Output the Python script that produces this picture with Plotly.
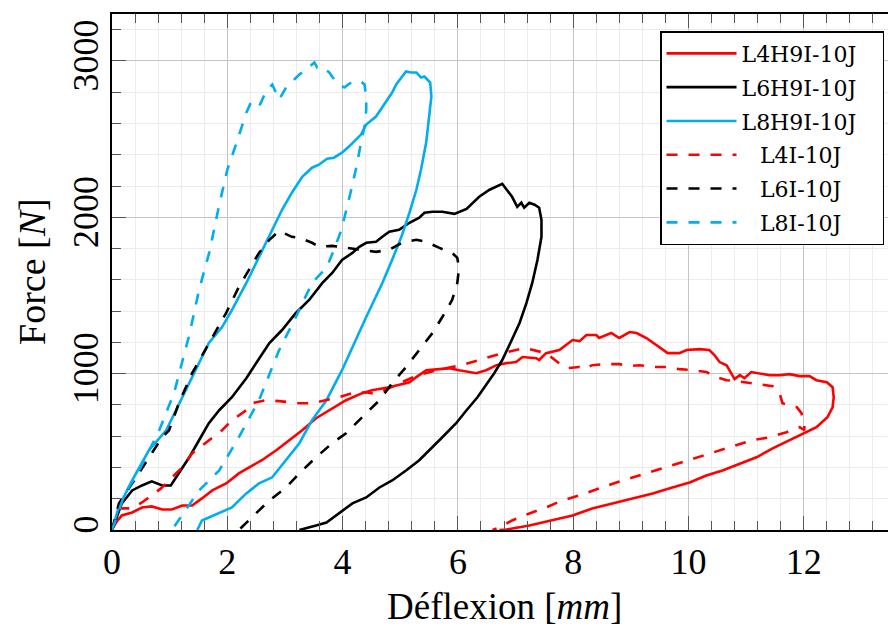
import plotly.graph_objects as go

# ---------------- data ----------------
L4H9I_x = [0, 0.07, 0.17, 0.35, 0.52, 0.69, 0.87, 1.04, 1.22, 1.39, 1.56, 1.74, 1.98, 2.20, 2.38, 2.60,
           2.85, 3.07, 3.30, 3.54, 3.77, 4.06, 4.34, 4.51, 4.81, 5.16, 5.28, 5.45, 5.68, 5.85, 6.02,
           6.32, 6.49, 6.67, 6.84, 7.01, 7.12, 7.36, 7.41, 7.53, 7.76, 7.99, 8.11, 8.23, 8.40, 8.45,
           8.66, 8.80, 8.98, 9.10, 9.27, 9.50, 9.64, 9.84, 9.97, 10.19, 10.36, 10.45, 10.54, 10.66,
           10.71, 10.80, 10.89, 10.97, 11.09, 11.23, 11.41, 11.58, 11.75, 11.93, 12.10, 12.22, 12.40,
           12.50, 12.52, 12.50, 12.41, 12.22, 12.01, 11.75, 11.46, 11.18, 10.89, 10.59, 10.31, 10.02,
           9.72, 9.38, 9.03, 8.68, 8.33, 7.99, 7.64, 7.24, 6.84, 6.72]
L4H9I_y = [0, 48, 93, 112, 144, 151, 131, 131, 157, 157, 202, 253, 298, 362, 401, 446,
           510, 574, 638, 715, 766, 830, 875, 894, 913, 945, 978, 1022, 1029, 1035, 1022,
           1003, 1022, 1054, 1067, 1074, 1106, 1099, 1087, 1131, 1151, 1215, 1208, 1247, 1247, 1228,
           1260, 1228, 1266, 1260, 1228, 1170, 1131, 1131, 1151, 1157, 1151, 1119, 1074, 1054,
           1022, 965, 990, 971, 1010, 1003, 990, 990, 997, 984, 984, 958, 945,
           913, 849, 785, 721, 657, 619, 574, 522, 465, 426, 381, 349, 304,
           272, 234, 202, 170, 138, 93, 61, 29, 3, 0]

L6H9I_x = [0, 0.17, 0.35, 0.52, 0.69, 0.87, 1.02, 1.16, 1.34, 1.51, 1.68, 1.86, 2.08, 2.33, 2.50,
           2.73, 2.95, 3.19, 3.42, 3.65, 3.82, 3.99, 4.17, 4.29, 4.41, 4.58, 4.69, 4.81, 4.98, 5.16,
           5.33, 5.42, 5.56, 5.73, 5.94, 6.15, 6.37, 6.55, 6.77, 6.89, 6.94, 7.03, 7.10, 7.15, 7.24,
           7.33, 7.41, 7.45, 7.45, 7.38, 7.29, 7.19, 7.07, 6.91, 6.77, 6.63, 6.49, 6.34, 6.15, 5.97,
           5.73, 5.56, 5.33, 5.10, 4.86, 4.64, 4.41, 4.17, 3.94, 3.72, 3.54, 3.37, 3.25]
L6H9I_y = [0, 170, 253, 285, 311, 285, 285, 362, 465, 574, 683, 766, 849, 971, 1067,
           1196, 1279, 1388, 1471, 1580, 1644, 1727, 1772, 1811, 1837, 1843, 1875, 1907, 1920, 1965,
           1997, 2029, 2035, 2035, 2022, 2054, 2131, 2176, 2214, 2157, 2131, 2067, 2093, 2061, 2093,
           2080, 2061, 1984, 1875, 1727, 1580, 1452, 1324, 1196, 1087, 1003, 926, 849, 766, 683,
           593, 529, 446, 381, 317, 272, 208, 170, 106, 48, 29, 10, 0]

L8H9I_x = [0, 0.12, 0.35, 0.64, 0.94, 1.11, 1.39, 1.68, 1.91, 2.08, 2.33, 2.50, 2.60, 2.78, 2.95,
           3.12, 3.30, 3.47, 3.59, 3.73, 3.85, 3.99, 4.11, 4.32, 4.41, 4.58, 4.69, 4.86, 4.93, 5.10,
           5.19, 5.28, 5.36, 5.42, 5.47, 5.52, 5.54, 5.50, 5.45, 5.36, 5.28, 5.16, 5.02, 4.86, 4.69,
           4.41, 3.99, 3.72, 3.47, 3.25, 3.02, 2.78, 2.55, 2.33, 2.08, 1.86, 1.68, 1.56, 1.48]
L8H9I_y = [0, 150, 317, 510, 638, 766, 978, 1196, 1298, 1407, 1580, 1708, 1792, 1920, 2048,
           2157, 2259, 2317, 2336, 2375, 2381, 2413, 2452, 2529, 2593, 2644, 2708, 2798, 2849, 2932,
           2926, 2926, 2894, 2900, 2881, 2862, 2772, 2644, 2478, 2304, 2176, 2029, 1875, 1728, 1580,
           1362, 1022, 830, 702, 555, 446, 337, 298, 234, 144, 106, 80, 61, 0]

L4I_x = [0, 0.12, 0.33, 0.52, 0.64, 0.85, 1.11, 1.22, 1.39, 1.68, 1.91, 2.08, 2.33, 2.43, 2.67,
         2.90, 3.25, 3.47, 3.72, 3.94, 4.17, 4.41, 4.58, 4.93, 5.30, 5.64, 6.06, 6.37, 6.77, 7.15,
         7.53, 7.80, 7.90, 8.11, 8.19, 8.33, 8.58, 8.80, 8.98, 9.15, 9.38, 9.62, 9.84, 10.07, 10.31,
         10.49, 10.66, 10.83, 11.06, 11.28, 11.46, 11.58, 11.63, 11.75, 11.88, 11.96, 12.01, 12.01,
         11.93, 11.70, 11.41, 11.11, 10.83, 10.54, 10.24, 9.97, 9.67, 9.32, 9.03, 8.75, 8.45, 8.11,
         7.81, 7.53, 7.24, 6.94, 6.72, 6.60]
L4I_y = [0, 138, 138, 176, 208, 266, 362, 401, 490, 574, 638, 702, 766, 811, 830,
         824, 811, 811, 830, 849, 875, 881, 869, 926, 990, 1022, 1054, 1087, 1131, 1164,
         1131, 1054, 1035, 1042, 1029, 1054, 1061, 1061, 1048, 1054, 1042, 1042, 1029, 1022, 1010,
         978, 958, 952, 939, 926, 920, 875, 811, 798, 785, 747, 683, 638,
         657, 625, 593, 574, 542, 510, 478, 446, 413, 369, 337, 304, 266, 221,
         189, 144, 106, 61, 16, 0]

L6I_x = [0, 0.12, 0.35, 0.64, 0.87, 0.99, 1.16, 1.39, 1.68, 1.98, 2.20, 2.38, 2.55, 2.73, 2.90,
         3.12, 3.25, 3.47, 3.59, 3.82, 4.11, 4.29, 4.58, 4.81, 5.03, 5.28, 5.45, 5.68, 5.90, 5.99,
         6.02, 5.99, 5.90, 5.73, 5.56, 5.33, 5.10, 4.86, 4.64, 4.34, 4.06, 3.82, 3.54, 3.25, 3.02,
         2.73, 2.50, 2.26, 2.20]
L6I_y = [0, 170, 298, 465, 593, 638, 811, 1003, 1196, 1388, 1554, 1663, 1772, 1856, 1913,
         1875, 1869, 1837, 1811, 1817, 1804, 1792, 1779, 1792, 1837, 1856, 1843, 1804, 1772, 1740,
         1676, 1580, 1471, 1362, 1260, 1151, 1042, 939, 830, 721, 619, 555, 465, 362, 272,
         189, 106, 16, 0]

L8I_x = [0, 0.21, 0.47, 0.82, 1.08, 1.34, 1.51, 1.69, 1.86, 2.00, 2.15, 2.33, 2.41, 2.55, 2.67,
         2.78, 2.90, 3.02, 3.25, 3.37, 3.51, 3.56, 3.63, 3.77, 3.89, 4.03, 4.17, 4.32, 4.38, 4.41,
         4.41, 4.38, 4.32, 4.24, 4.15, 4.06, 3.98, 3.85, 3.73, 3.47, 3.19, 2.90, 2.55, 2.20, 1.86,
         1.51, 1.28, 1.04]
L8I_y = [0, 221, 381, 638, 881, 1247, 1535, 1779, 2080, 2304, 2465, 2669, 2734, 2708, 2804,
         2849, 2753, 2830, 2913, 2945, 2990, 2958, 2964, 2926, 2862, 2830, 2868, 2868, 2849, 2772,
         2689, 2580, 2477, 2323, 2176, 2048, 1920, 1792, 1683, 1580, 1362, 1151, 830, 593, 381,
         253, 125, 0]

series_names = ["L4H9I-10J", "L6H9I-10J", "L8H9I-10J", "L4I-10J", "L6I-10J", "L8I-10J"]
series_x = [L4H9I_x, L6H9I_x, L8H9I_x, L4I_x, L6I_x, L8I_x]
series_y = [L4H9I_y, L6H9I_y, L8H9I_y, L4I_y, L6I_y, L8I_y]
series_colors = ["#ff0000", "#000000", "#00aeef", "#ff0000", "#000000", "#00aeef"]
series_dash = ["solid", "solid", "solid", "11px,11px", "11px,11px", "11px,11px"]

x_ticks = [0, 2, 4, 6, 8, 10, 12]
y_ticks = [0, 1000, 2000, 3000]
x_title = "Déflexion [<i>mm</i>]"
y_title = "Force [<i>N</i>]"

# ---------------- figure ----------------
# (the page adds an 8px body margin, so the figure is 8px smaller than the window)
FONT = "Liberation Serif"
NB = "\u00a0"
fig = go.Figure()
for name, xs, ys, col, dash in zip(series_names, series_x, series_y, series_colors, series_dash):
    label = (name + NB * 3) if dash == "solid" else (NB * 2 + "\u2009" + name + NB * 5)
    fig.add_trace(go.Scatter(x=xs, y=ys, mode="lines", name=label, legendgroup=name,
                             line=dict(color=col, width=2.6, dash=dash)))

axis_common = dict(
    showline=True, linecolor="black", linewidth=1.5,
    ticks="inside", ticklen=14, tickwidth=1, tickcolor="#555555",
    showgrid=True, gridcolor="#c4c4c4", gridwidth=1,
    zeroline=False, automargin=False,
    tickfont=dict(family=FONT, size=36, color="black"),
)

fig.update_xaxes(
    range=[0, 13.6], tickvals=x_ticks, ticktext=[str(v) for v in x_ticks],
    mirror="allticks", ticklabelstandoff=-1,
    minor=dict(dtick=0.4, tick0=0, ticks="inside", ticklen=9, tickcolor="#555555",
               showgrid=True, gridcolor="#ececec", gridwidth=1),
    **axis_common,
)
fig.update_yaxes(
    range=[0, 3300], tickvals=y_ticks, ticktext=[str(v) for v in y_ticks],
    tickangle=-90, mirror=False, ticklabelstandoff=-2,
    minor=dict(dtick=200, tick0=0, ticks="inside", ticklen=9, tickcolor="#555555",
               showgrid=True, gridcolor="#ececec", gridwidth=1),
    **axis_common,
)

fig.add_annotation(text=x_title, xref="paper", yref="paper", x=0.5, y=0,
                   xanchor="center", yanchor="middle", yshift=-76, showarrow=False,
                   font=dict(family=FONT, size=37, color="black"))
fig.add_annotation(text=y_title, xref="paper", yref="paper", x=0, y=0.5,
                   xanchor="center", yanchor="middle", xshift=-80, textangle=-90, showarrow=False,
                   font=dict(family=FONT, size=38, color="black"))

fig.update_layout(
    width=888, height=620,
    margin=dict(l=104, r=0, t=6, b=98),
    paper_bgcolor="white", plot_bgcolor="white",
    showlegend=True,
    legend=dict(x=0.699, y=0.967, xanchor="left", yanchor="top",
                bgcolor="white", bordercolor="black", borderwidth=1.5,
                font=dict(family="DejaVu Serif", size=22, color="black"),
                tracegroupgap=2.2, itemwidth=70),
)

fig.write_html("out.html")
